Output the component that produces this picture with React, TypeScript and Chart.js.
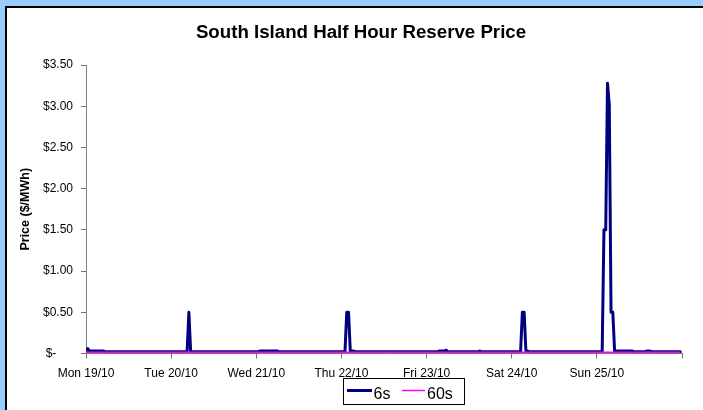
import React, { useEffect, useRef } from 'react';
import { Chart, registerables } from 'chart.js';

Chart.register(...registerables);

const chartTitle = 'South Island Half Hour Reserve Price';
const yAxisTitle = 'Price ($/MWh)';
const xTickLabels = ['Mon 19/10', 'Tue 20/10', 'Wed 21/10', 'Thu 22/10', 'Fri 23/10', 'Sat 24/10', 'Sun 25/10'];
const yTickLabels = ['$-', '$0.50', '$1.00', '$1.50', '$2.00', '$2.50', '$3.00', '$3.50'];
const seriesNames = ['6s', '60s'];

// 6s reserve price, half-hourly, one row per day (48 trading periods)
const price6s = [
  // Mon 19/10
  0.02, 0.06, 0.03, 0.03, 0.03, 0.03, 0.03, 0.03, 0.03, 0.03, 0.03, 0.02, 0.02, 0.02, 0.02, 0.02,
  0.02, 0.02, 0.02, 0.02, 0.02, 0.02, 0.02, 0.02, 0.02, 0.02, 0.02, 0.02, 0.02, 0.02, 0.02, 0.02,
  0.02, 0.02, 0.02, 0.02, 0.02, 0.02, 0.02, 0.02, 0.02, 0.02, 0.02, 0.02, 0.02, 0.02, 0.02, 0.02,
  // Tue 20/10
  0.02, 0.02, 0.02, 0.02, 0.02, 0.02, 0.02, 0.02, 0.02, 0.02, 0.5, 0.02, 0.02, 0.02, 0.02, 0.02,
  0.02, 0.02, 0.02, 0.02, 0.02, 0.02, 0.02, 0.02, 0.02, 0.02, 0.02, 0.02, 0.02, 0.02, 0.02, 0.02,
  0.02, 0.02, 0.02, 0.02, 0.02, 0.02, 0.02, 0.02, 0.02, 0.02, 0.02, 0.02, 0.02, 0.02, 0.02, 0.02,
  // Wed 21/10
  0.02, 0.02, 0.03, 0.03, 0.03, 0.03, 0.03, 0.03, 0.03, 0.03, 0.03, 0.03, 0.03, 0.02, 0.02, 0.02,
  0.02, 0.02, 0.02, 0.02, 0.02, 0.02, 0.02, 0.02, 0.02, 0.02, 0.02, 0.02, 0.02, 0.02, 0.02, 0.02,
  0.02, 0.02, 0.02, 0.02, 0.02, 0.02, 0.02, 0.02, 0.02, 0.02, 0.02, 0.02, 0.02, 0.02, 0.02, 0.02,
  // Thu 22/10
  0.02, 0.02, 0.02, 0.5, 0.5, 0.03, 0.03, 0.03, 0.02, 0.02, 0.02, 0.02, 0.02, 0.02, 0.02, 0.02,
  0.02, 0.02, 0.02, 0.02, 0.02, 0.02, 0.02, 0.02, 0.02, 0.02, 0.02, 0.02, 0.02, 0.02, 0.02, 0.02,
  0.02, 0.02, 0.02, 0.02, 0.02, 0.02, 0.02, 0.02, 0.02, 0.02, 0.02, 0.02, 0.02, 0.02, 0.02, 0.02,
  // Fri 23/10
  0.02, 0.02, 0.02, 0.02, 0.02, 0.02, 0.02, 0.03, 0.03, 0.03, 0.03, 0.04, 0.02, 0.02, 0.02, 0.02,
  0.02, 0.02, 0.02, 0.02, 0.02, 0.02, 0.02, 0.02, 0.02, 0.02, 0.02, 0.02, 0.02, 0.02, 0.03, 0.02,
  0.02, 0.02, 0.02, 0.02, 0.02, 0.02, 0.02, 0.02, 0.02, 0.02, 0.02, 0.02, 0.02, 0.02, 0.02, 0.02,
  // Sat 24/10
  0.02, 0.02, 0.02, 0.02, 0.02, 0.02, 0.5, 0.5, 0.03, 0.03, 0.02, 0.02, 0.02, 0.02, 0.02, 0.02,
  0.02, 0.02, 0.02, 0.02, 0.02, 0.02, 0.02, 0.02, 0.02, 0.02, 0.02, 0.02, 0.02, 0.02, 0.02, 0.02,
  0.02, 0.02, 0.02, 0.02, 0.02, 0.02, 0.02, 0.02, 0.02, 0.02, 0.02, 0.02, 0.02, 0.02, 0.02, 0.02,
  // Sun 25/10
  0.02, 0.02, 0.02, 0.02, 1.5, 1.5, 3.28, 3.02, 0.5, 0.5, 0.03, 0.03, 0.03, 0.03, 0.03, 0.03,
  0.03, 0.03, 0.03, 0.03, 0.03, 0.02, 0.02, 0.02, 0.02, 0.02, 0.02, 0.02, 0.03, 0.03, 0.03, 0.02,
  0.02, 0.02, 0.02, 0.02, 0.02, 0.02, 0.02, 0.02, 0.02, 0.02, 0.02, 0.02, 0.02, 0.02, 0.02, 0.02,
];

// 60s reserve price, half-hourly, one row per day (48 trading periods)
const price60s = [
  // Mon 19/10
  0.015, 0.015, 0.015, 0.015, 0.015, 0.015, 0.015, 0.015, 0.015, 0.015, 0.015, 0.015, 0.015, 0.015, 0.015, 0.015,
  0.015, 0.015, 0.015, 0.015, 0.015, 0.015, 0.015, 0.015, 0.015, 0.015, 0.015, 0.015, 0.015, 0.015, 0.015, 0.015,
  0.015, 0.015, 0.015, 0.015, 0.015, 0.015, 0.015, 0.015, 0.015, 0.015, 0.015, 0.015, 0.015, 0.015, 0.015, 0.015,
  // Tue 20/10
  0.015, 0.015, 0.015, 0.015, 0.015, 0.015, 0.015, 0.015, 0.015, 0.015, 0.015, 0.015, 0.015, 0.015, 0.015, 0.015,
  0.015, 0.015, 0.015, 0.015, 0.015, 0.015, 0.015, 0.015, 0.015, 0.015, 0.015, 0.015, 0.015, 0.015, 0.015, 0.015,
  0.015, 0.015, 0.015, 0.015, 0.015, 0.015, 0.015, 0.015, 0.015, 0.015, 0.015, 0.015, 0.015, 0.015, 0.015, 0.015,
  // Wed 21/10
  0.015, 0.015, 0.015, 0.015, 0.015, 0.015, 0.015, 0.015, 0.015, 0.015, 0.015, 0.015, 0.015, 0.015, 0.015, 0.015,
  0.015, 0.015, 0.015, 0.015, 0.015, 0.015, 0.015, 0.015, 0.015, 0.015, 0.015, 0.015, 0.015, 0.015, 0.015, 0.015,
  0.015, 0.015, 0.015, 0.015, 0.015, 0.015, 0.015, 0.015, 0.015, 0.015, 0.015, 0.015, 0.015, 0.015, 0.015, 0.015,
  // Thu 22/10
  0.015, 0.015, 0.015, 0.015, 0.015, 0.015, 0.015, 0.015, 0.015, 0.015, 0.015, 0.015, 0.015, 0.015, 0.015, 0.015,
  0.015, 0.015, 0.015, 0.015, 0.015, 0.015, 0.015, 0.015, 0.015, 0.015, 0.015, 0.015, 0.015, 0.015, 0.015, 0.015,
  0.015, 0.015, 0.015, 0.015, 0.015, 0.015, 0.015, 0.015, 0.015, 0.015, 0.015, 0.015, 0.015, 0.015, 0.015, 0.015,
  // Fri 23/10
  0.015, 0.015, 0.015, 0.015, 0.015, 0.015, 0.015, 0.015, 0.015, 0.015, 0.015, 0.015, 0.015, 0.015, 0.015, 0.015,
  0.015, 0.015, 0.015, 0.015, 0.015, 0.015, 0.015, 0.015, 0.015, 0.015, 0.015, 0.015, 0.015, 0.015, 0.015, 0.015,
  0.015, 0.015, 0.015, 0.015, 0.015, 0.015, 0.015, 0.015, 0.015, 0.015, 0.015, 0.015, 0.015, 0.015, 0.015, 0.015,
  // Sat 24/10
  0.015, 0.015, 0.015, 0.015, 0.015, 0.015, 0.015, 0.015, 0.015, 0.015, 0.015, 0.015, 0.015, 0.015, 0.015, 0.015,
  0.015, 0.015, 0.015, 0.015, 0.015, 0.015, 0.015, 0.015, 0.015, 0.015, 0.015, 0.015, 0.015, 0.015, 0.015, 0.015,
  0.015, 0.015, 0.015, 0.015, 0.015, 0.015, 0.015, 0.015, 0.015, 0.015, 0.015, 0.015, 0.015, 0.015, 0.015, 0.015,
  // Sun 25/10
  0.015, 0.015, 0.015, 0.015, 0.015, 0.015, 0.015, 0.015, 0.015, 0.015, 0.015, 0.015, 0.015, 0.015, 0.015, 0.015,
  0.015, 0.015, 0.015, 0.015, 0.015, 0.015, 0.015, 0.015, 0.015, 0.015, 0.015, 0.015, 0.015, 0.015, 0.015, 0.015,
  0.015, 0.015, 0.015, 0.015, 0.015, 0.015, 0.015, 0.015, 0.015, 0.015, 0.015, 0.015, 0.015, 0.015, 0.015, 0.015,
];

const PERIODS_PER_DAY = 48;
const FONT = '"Liberation Sans", Arial, Helvetica, sans-serif';

const decorPlugin = {
  id: 'decor',
  afterDraw(chart: any) {
    const ctx = chart.ctx as CanvasRenderingContext2D;
    ctx.save();
    // Title
    ctx.fillStyle = '#000';
    ctx.font = `bold 18.7px ${FONT}`;
    ctx.textAlign = 'center';
    ctx.textBaseline = 'alphabetic';
    ctx.fillText(chartTitle, 361, 37.5);

    // Legend box
    ctx.strokeStyle = '#000';
    ctx.lineWidth = 1;
    ctx.strokeRect(343.5, 378.5, 121, 26);
    const slots = [
      { x0: 347, x1: 372, tx: 373.5 },
      { x0: 402, x1: 425, tx: 427 },
    ];
    const ly = 390.5;
    chart.data.datasets.forEach((ds: any, i: number) => {
      const s = slots[i];
      if (!s) return;
      ctx.beginPath();
      ctx.strokeStyle = ds.borderColor;
      ctx.lineWidth = ds.borderWidth;
      ctx.lineCap = 'butt';
      ctx.moveTo(s.x0, ly);
      ctx.lineTo(s.x1, ly);
      ctx.stroke();
      ctx.fillStyle = '#000';
      ctx.font = `16px ${FONT}`;
      ctx.textAlign = 'left';
      ctx.textBaseline = 'alphabetic';
      ctx.fillText(ds.label, s.tx, 399);
    });
    ctx.restore();
  },
};

export default function App() {
  const ref = useRef<HTMLCanvasElement>(null);

  useEffect(() => {
    const canvas = ref.current;
    if (!canvas) return;
    Chart.defaults.font.family = FONT;
    Chart.defaults.color = '#000';

    const chart = new Chart(canvas, {
      type: 'line',
      data: {
        datasets: [
          {
            label: seriesNames[0],
            data: price6s.map((y, i) => ({ x: i, y })),
            borderColor: '#000080',
            backgroundColor: '#000080',
            borderWidth: 3,
            pointRadius: 0,
            tension: 0,
            borderJoinStyle: 'round',
            borderCapStyle: 'round',
            order: 1,
          },
          {
            label: seriesNames[1],
            data: price60s.map((y, i) => ({ x: i, y })),
            borderColor: '#FF00FF',
            backgroundColor: '#FF00FF',
            borderWidth: 1.5,
            pointRadius: 0,
            tension: 0,
            order: 0,
          },
        ],
      },
      options: {
        animation: false,
        responsive: false,
        devicePixelRatio: 1,
        events: [],
        layout: { padding: { top: 65, left: 7, right: 21, bottom: 26.5 } },
        plugins: {
          legend: { display: false },
          title: { display: false },
          tooltip: { enabled: false },
        },
        scales: {
          x: {
            type: 'linear',
            min: 0,
            max: PERIODS_PER_DAY * xTickLabels.length,
            grid: {
              display: true,
              drawOnChartArea: false,
              drawTicks: true,
              tickLength: 5,
              color: '#707070',
            },
            border: { display: true, color: '#808080', width: 1 },
            ticks: {
              stepSize: PERIODS_PER_DAY,
              autoSkip: false,
              maxRotation: 0,
              padding: 8,
              font: { size: 12, family: FONT },
              color: '#000',
              callback: (v: any) => {
                const idx = Math.round(Number(v) / PERIODS_PER_DAY);
                return xTickLabels[idx] ?? '';
              },
            },
            afterFit: (scale: any) => {
              scale.height = 30;
            },
          },
          y: {
            type: 'linear',
            min: 0,
            max: 3.5,
            grid: {
              display: true,
              drawOnChartArea: false,
              drawTicks: true,
              tickLength: 5,
              color: '#707070',
            },
            border: { display: true, color: '#808080', width: 1 },
            ticks: {
              stepSize: 0.5,
              padding: 8,
              font: { size: 12, family: FONT },
              color: '#000',
              callback: (v: any) => {
                const idx = Math.round(Number(v) / 0.5);
                const t = yTickLabels[idx] ?? '';
                return idx === 0 ? t + '     ' : t;
              },
            },
            title: {
              display: true,
              text: yAxisTitle,
              font: { size: 12.5, weight: 'bold', family: FONT },
              color: '#000',
              padding: { top: 10.8, bottom: 0 },
            },
            afterFit: (scale: any) => {
              scale.width = 79;
            },
          },
        },
      },
      plugins: [decorPlugin],
    } as any);

    return () => chart.destroy();
  }, []);

  return (
    <div
      style={{
        position: 'absolute',
        left: 0,
        top: 0,
        width: 703,
        height: 410,
        background: '#99CCFF',
        overflow: 'hidden',
      }}
    >
      <div
        style={{
          position: 'absolute',
          left: 5,
          top: 6,
          width: 720,
          height: 420,
          background: '#FFFFFF',
          borderLeft: '2px solid #000',
          borderTop: '2px solid #000',
        }}
      />
      <canvas
        ref={ref}
        width={703}
        height={410}
        style={{ position: 'absolute', left: 0, top: 0, width: 703, height: 410 }}
      />
    </div>
  );
}
